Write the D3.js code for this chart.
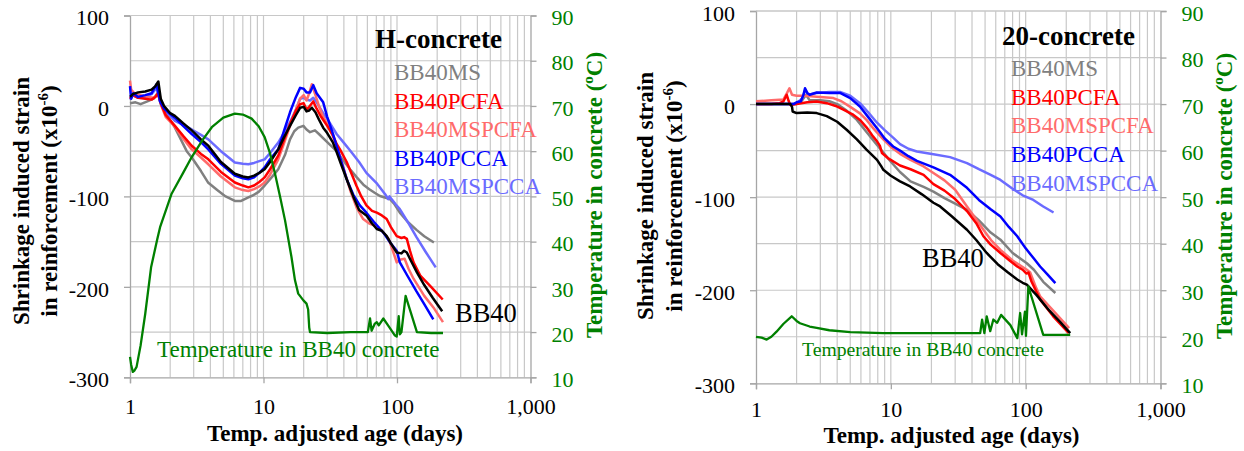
<!DOCTYPE html>
<html><head><meta charset="utf-8">
<script src="https://cdn.jsdelivr.net/npm/d3@7"></script>
<style>
body{margin:0;background:#fff}
svg{display:block}
text{font-family:"Liberation Serif","Times New Roman",serif}
</style>
</head><body>
<svg id="c" width="1244" height="451" font-family="Liberation Serif, serif"></svg>
<script>
// ---------------- DATA ----------------
const seriesNames = ["BB40MS","BB40PCFA","BB40MSPCFA","BB40PCCA","BB40MSPCCA"];
const strainTicks = [-300,-200,-100,0,100];
const tempTicks = [10,20,30,40,50,60,70,80,90];
const ageTicks = [1,10,100,1000];

// H-concrete: [age (days), strain x10^-6]
const H_BB40 = [[1.0,10],[1.05,13],[1.15,15],[1.3,16],[1.45,18],[1.55,22],[1.63,27],[1.7,8],[1.8,0],[2.0,-8],[2.17,-11],[2.5,-19],[2.9,-27],[3.4,-37],[3.86,-44],[4.8,-62],[6.1,-75],[7.0,-78],[7.7,-79],[8.5,-77],[9.3,-74],[10.2,-70],[11.2,-62],[12.9,-48],[14.2,-35],[15.8,-22],[17.5,-10],[18.8,-2],[20,-1],[21,-6],[22,-5],[23,-2],[24.5,-7],[26,-15],[28,-24],[30,-30],[33,-40],[35.3,-51],[38,-64],[42,-81],[47,-100],[52,-115],[59,-121],[65,-130],[70.6,-136],[77,-138],[83.7,-144],[90,-152],[99.5,-162],[108,-163],[113,-160],[118.5,-162],[128,-172],[141,-184],[160,-198],[185,-212],[218,-227]];
const H_MS = [[1.0,3],[1.1,4],[1.2,2],[1.35,5],[1.5,8],[1.62,15],[1.7,2],[1.85,-8],[2.17,-24],[2.66,-50],[2.9,-57],[3.4,-72],[3.86,-85],[4.5,-93],[5.2,-100],[6.1,-105],[6.8,-105],[7.7,-101],[8.3,-99],[9.2,-95],[10.2,-88],[11.8,-77],[12.9,-70],[14.5,-54],[15.8,-37],[17,-28],[18.2,-24],[19.9,-22],[21,-26],[22.3,-29],[24.3,-27],[26,-31],[30,-40],[35.3,-50],[40,-61],[45,-71],[50,-79],[56,-87],[62,-92],[68,-96],[74.5,-99.5],[80,-101],[88.6,-103],[95,-108],[105,-118],[120,-128],[140,-137],[160,-144],[189,-151]];
const H_PCFA = [[1.0,8],[1.05,12],[1.15,9],[1.3,8],[1.45,7],[1.55,10],[1.62,14],[1.7,3],[1.85,-10],[2.17,-22],[2.5,-33],[2.9,-44],[3.4,-53],[3.86,-59],[4.8,-73],[6.1,-84.6],[7.0,-88],[7.7,-90],[8.5,-88],[9.3,-84],[10.2,-79],[11.2,-70],[12.9,-55],[14.2,-38],[15.8,-20],[17.5,-5],[18.8,2],[20,3],[21,-4],[22,-1],[23.6,5],[25,-3],[27,-12],[30,-22],[33,-32],[35.3,-42],[37.4,-48],[42,-62],[46,-76],[49.6,-88],[54,-100],[59,-110],[65,-116],[70.6,-118],[77,-121],[83.7,-125],[90,-134],[99.5,-144],[108,-146],[113,-145],[118.5,-147],[125,-160],[133,-173],[150,-188],[180,-200],[220,-214]];
const H_MSPCFA = [[1.0,28],[1.02,18],[1.08,14],[1.2,12],[1.35,10],[1.5,9],[1.6,12],[1.66,14],[1.72,0],[1.85,-12],[2.17,-23],[2.5,-36],[2.9,-48],[3.4,-57],[3.86,-64.5],[4.8,-78],[6.1,-90],[7.0,-93],[7.7,-94],[8.5,-92],[9.3,-89],[10.2,-84.6],[11.2,-76],[12.9,-59],[14.2,-42],[15.8,-22],[17.5,-4],[18.8,8],[20,12],[21,6],[22,14],[23,24],[24.5,12],[26,0],[28,-12],[30,-20],[33,-33],[35.3,-44],[40,-70],[45,-95],[50,-113],[55.8,-125],[62,-130],[70.6,-133],[77,-138],[86.6,-147],[93,-160],[99.5,-173],[105,-170],[114,-169],[122,-180],[133,-191],[160,-210],[190,-224],[221,-239]];
const H_PCCA = [[1.0,22],[1.02,8],[1.06,14],[1.15,10],[1.3,12],[1.45,14],[1.58,24],[1.68,5],[1.8,-3],[2.0,-9],[2.17,-13],[2.5,-22],[2.9,-31],[3.4,-40],[3.86,-48],[4.8,-64],[6.1,-77],[7.0,-80],[7.7,-81],[8.5,-79],[9.3,-74],[10.2,-68],[11.2,-59],[12.9,-48],[14.2,-28],[15.8,-7],[17.5,10],[18.8,20],[20,19],[21,15],[22.3,15],[23.6,23],[25,14],[28,4],[30,-12],[33,-30],[35.3,-44],[38,-60],[42,-81],[47,-98],[52.7,-110],[59,-118],[67,-128],[79,-140],[90,-152],[99.5,-160],[105,-173],[120,-188],[140,-205],[160,-219],[187,-236]];
const H_MSPCCA = [[1.0,7],[1.05,12],[1.15,9],[1.3,10],[1.45,13],[1.58,20],[1.68,5],[1.8,-4],[2.17,-16.6],[2.5,-21],[2.9,-26],[3.4,-32],[3.86,-37],[4.8,-50],[6.1,-62.6],[7.0,-64],[7.7,-64.5],[8.5,-63],[9.3,-61],[10.2,-59],[11.2,-52],[12.9,-40.5],[14.2,-30],[15.8,-18],[17.5,-4],[18.8,8],[20,9],[21,7],[22.3,6],[23.6,9],[25,4],[28,-8],[30,-14],[33,-24],[35.3,-31],[39.6,-40],[45,-50],[52,-62],[59,-74],[70,-85],[81.5,-97.6],[86,-103],[88,-100],[91,-103],[98,-109],[105,-114],[120,-128],[140,-145],[165,-162],[195,-178.5]];
// temperature in BB40 H-concrete [age, degC]
const H_TEMP = [[1.0,14.5],[1.02,12.8],[1.05,11.2],[1.08,11.5],[1.12,12.3],[1.2,17],[1.3,24],[1.44,34.4],[1.6,40.5],[1.68,43.2],[2.05,50.6],[2.5,55.2],[2.9,58.7],[3.5,62.5],[4.1,65.3],[5.0,67.4],[6.1,68.3],[7.0,68.1],[8.15,67.2],[9.2,65.5],[10.2,63.1],[11.2,59.5],[12.2,55],[13.3,50],[14.5,44.7],[16.2,36.6],[17.2,31.5],[18.2,28.5],[19.9,27],[21,26.3],[21.6,25],[22,21],[22.3,20],[30,19.8],[45,20],[60.5,20],[62.8,23],[64.5,20.3],[68,21.8],[70.6,22.2],[73,21.5],[79,23],[88,21],[96,19.3],[99.5,19],[103,23.5],[105,19.5],[108,20],[116,28],[141,20],[180,19.8],[221,19.8]];

// 20-concrete
const R_BB40 = [[1.0,0],[1.3,0],[1.6,0],[1.8,0],[1.85,-3],[1.87,-8],[2.0,-9.7],[2.4,-9],[2.82,-9.7],[3.35,-13],[4.0,-19],[4.7,-27.6],[5.6,-38],[6.6,-49],[7.9,-60],[8.5,-67],[8.8,-70.6],[10,-77],[11.7,-83],[13.9,-88.5],[17,-97],[20.7,-106],[23.2,-110],[28,-120],[36.7,-135],[43,-146],[51.4,-160],[62,-172],[74,-181],[86.6,-188.5],[95,-192],[102,-194],[120,-205],[150,-222],[180,-234],[214,-246]];
const R_MS = [[1.0,0],[1.5,0],[2.0,0],[2.2,4],[2.35,10],[2.5,4],[3.0,4],[3.5,3],[4.0,0],[4.7,-7],[5.6,-17],[6.6,-30],[7.9,-44],[8.8,-52],[10,-62],[11.7,-73],[14,-83],[17.5,-89],[20.7,-94],[25,-101],[30,-107],[36.7,-113.6],[45,-125],[55,-138],[65,-145.7],[80,-160],[102,-171],[115,-178],[135,-191],[166,-203]];
const R_PCFA = [[1.0,0],[1.3,0],[1.5,1],[1.6,3],[1.69,10],[1.75,3],[1.8,-1],[2.0,0],[2.4,2],[2.82,2.8],[3.35,1],[3.9,-2],[4.45,-6],[5.2,-11],[5.9,-17],[6.6,-25],[7.4,-35],[7.9,-40],[8.3,-45],[8.6,-52.6],[9.5,-58],[11.7,-66],[14,-70],[17.5,-76],[20.7,-86],[25,-93],[30,-102],[36.7,-115],[43,-128],[48.6,-142],[55,-151],[65,-160],[76,-168],[86.6,-174.5],[95,-178],[101,-182],[105,-181],[110,-190],[128,-210],[160,-228],[209,-246]];
const R_MSPCFA = [[1.0,3],[1.3,4],[1.6,5],[1.7,12],[1.77,17],[1.85,10],[2.0,9],[2.3,9],[2.82,8],[3.35,7],[3.75,6.4],[4.3,3],[5.0,-3],[5.9,-10],[6.6,-17],[7.5,-27],[8.8,-38],[10,-46],[11.7,-53.5],[14,-60],[17.5,-67],[20.7,-74],[25,-82],[30,-92],[36.7,-110],[43,-124],[48.6,-135],[56,-147],[65,-156.6],[80,-168],[95,-175],[102,-178],[108,-181],[120,-198],[128,-206.6],[160,-222],[210,-240.7]];
const R_PCCA = [[1.0,0],[1.5,0],[1.9,0],[2.0,2],[2.15,3],[2.25,10],[2.31,17],[2.4,12],[2.5,10],[2.82,12.5],[3.5,12],[4.2,12],[5.0,6.4],[5.9,-2.6],[6.8,-14],[7.9,-26],[9,-37],[10.4,-45.6],[11.7,-50],[13.5,-56],[15.6,-61],[20.7,-68],[27.5,-76],[36.7,-90],[45,-103],[55,-113],[65,-120.8],[75,-132],[86.6,-142],[100,-155],[115,-166],[128,-174.5],[145,-183],[166,-192.3]];
const R_MSPCCA = [[1.0,0],[1.5,0],[1.9,0],[2.0,1],[2.2,6],[2.31,15],[2.45,10],[2.82,12],[3.5,13],[4.2,13],[5.0,9],[5.9,1],[6.8,-9],[7.9,-20],[9,-28],[10.4,-36],[11.7,-43],[13.5,-48],[15.6,-51],[20.7,-54],[27.5,-57],[36.7,-63.5],[45,-70],[55,-76],[65,-81.5],[80,-91],[95,-98],[114,-103],[135,-110],[161,-116.5]];
const R_TEMP = [[1.0,20],[1.1,19.8],[1.2,19.4],[1.3,20],[1.42,21.1],[1.6,22.8],[1.84,24.4],[2.0,23.4],[2.12,22.9],[2.5,22.2],[2.82,21.9],[3.5,21.4],[5.0,21],[8.8,20.8],[20,20.8],[46,20.8],[47.5,23.7],[49.4,20.8],[51.4,24.4],[54.6,21.2],[57.6,23.7],[61.5,23],[65.7,24.7],[77,22.5],[86.7,19.7],[91,25.1],[94,20.5],[98.8,25.4],[100.5,20.2],[104.7,30.8],[135,20.4],[214,20.4]];

// ---------------- DRAW ----------------
const FONT = '"Liberation Serif","Times New Roman",serif';
const colors = {"BB40":"#000000","BB40MS":"#808080","BB40PCFA":"#ff0000","BB40MSPCFA":"#ff6b6b","BB40PCCA":"#0000ff","BB40MSPCCA":"#6b6bff"};
const GREEN = "#008000";
const svg = d3.select("#c");
svg.append("rect").attr("width",1244).attr("height",451).attr("fill","#fff");
const hyphenFmt = d => String(d);

const charts = [
  {title:"H-concrete", x0:130, x1:530.5, yT:15.5, yB:377.3, xPad:15,
   series:{"BB40MS":H_MS,"BB40MSPCCA":H_MSPCCA,"BB40MSPCFA":H_MSPCFA,"BB40PCFA":H_PCFA,"BB40PCCA":H_PCCA,"BB40":H_BB40},
   temp:H_TEMP,
   titleX:375, titleY:48, legX:394, legY:[80,108.5,137,165.5,194],
   bbX:455, bbY:322, tLabX:157, tLabY:357, tLabSize:23,
   yt1:28.5, yt2:57, ytY:201, rtX:602, rtY:195, xtX:335, xtY:441},
  {title:"20-concrete", x0:756, x1:1160.5, yT:11, yB:383.3, xPad:12,
   series:{"BB40MS":R_MS,"BB40MSPCCA":R_MSPCCA,"BB40MSPCFA":R_MSPCFA,"BB40PCFA":R_PCFA,"BB40PCCA":R_PCCA,"BB40":R_BB40},
   temp:R_TEMP,
   titleX:1002, titleY:45, legX:1011, legY:[76,104.5,133,161.5,190.5],
   bbX:922, bbY:267, tLabX:802, tLabY:356, tLabSize:19.7,
   yt1:653, yt2:681.5, ytY:196, rtX:1232, rtY:196, xtX:951.5, xtY:443}
];

charts.forEach(c => {
  const g = svg.append("g").attr("font-family",FONT);
  const x = d3.scaleLog().domain([1,1000]).range([c.x0,c.x1]);
  const y = d3.scaleLinear().domain([-300,100]).range([c.yB,c.yT]);
  const yT = d3.scaleLinear().domain([10,90]).range([c.yB,c.yT]);

  // grid
  const vGrid = [];
  [1,10,100].forEach(dec => { for (let k=1;k<10;k++) vGrid.push(dec*k); });
  vGrid.push(1000);
  g.selectAll(".vg").data(vGrid.slice(1,-1)).enter().append("line")
    .attr("x1",d=>x(d)).attr("x2",d=>x(d)).attr("y1",c.yT).attr("y2",c.yB)
    .attr("stroke","#c8c8c8").attr("stroke-width",1.2);
  g.selectAll(".hg").data(d3.range(-250,101,50)).enter().append("line")
    .attr("x1",c.x0).attr("x2",c.x1).attr("y1",d=>y(d)).attr("y2",d=>y(d))
    .attr("stroke","#c8c8c8").attr("stroke-width",1.2);

  // axes
  const axL = g.append("g").attr("transform",`translate(${c.x0},0)`)
    .call(d3.axisLeft(y).tickValues(strainTicks).tickSize(6).tickPadding(15).tickFormat(hyphenFmt));
  const axB = g.append("g").attr("transform",`translate(0,${c.yB})`)
    .call(d3.axisBottom(x).tickValues(ageTicks).tickSize(6).tickPadding(c.xPad).tickFormat(d3.format(",")));
  const axR = g.append("g").attr("transform",`translate(${c.x1},0)`)
    .call(d3.axisRight(yT).tickValues(tempTicks).tickSize(6).tickPadding(15).tickFormat(hyphenFmt));
  [axL,axB,axR].forEach(a => {
    a.attr("font-family",FONT).attr("font-size",22);
    a.select(".domain").attr("stroke","#a6a6a6").attr("stroke-width",1.3);
    a.selectAll(".tick line").attr("stroke","#a6a6a6").attr("stroke-width",1.3);
    a.selectAll(".tick text").attr("font-family",FONT).attr("font-size",22).attr("fill","#000");
  });
  axL.selectAll(".tick text").attr("dy","0.42em");
  axR.selectAll(".tick text").attr("dy","0.42em").attr("fill",GREEN);
  g.append("line").attr("x1",c.x0).attr("x2",c.x1).attr("y1",c.yT).attr("y2",c.yT).attr("stroke","#c8c8c8").attr("stroke-width",1.2);

  // strain lines
  const line = d3.line().x(d=>x(d[0])).y(d=>y(d[1]));
  Object.entries(c.series).forEach(([name,data]) => {
    g.append("path").datum(data).attr("d",line).attr("fill","none")
      .attr("stroke",colors[name]).attr("stroke-width",2.5).attr("stroke-linejoin","round");
  });
  // temperature
  const tline = d3.line().x(d=>x(d[0])).y(d=>yT(d[1]));
  g.append("path").datum(c.temp).attr("d",tline).attr("fill","none")
    .attr("stroke",GREEN).attr("stroke-width",2.3).attr("stroke-linejoin","round");

  // title & legend
  g.append("text").attr("x",c.titleX).attr("y",c.titleY).attr("font-size",27).attr("font-weight","bold").text(c.title);
  seriesNames.forEach((n,i) => {
    g.append("text").attr("x",c.legX).attr("y",c.legY[i]).attr("font-size",23).attr("fill",colors[n]).text(n);
  });
  g.append("text").attr("x",c.bbX).attr("y",c.bbY).attr("font-size",26.5).text("BB40");
  g.append("text").attr("x",c.tLabX).attr("y",c.tLabY).attr("font-size",c.tLabSize).attr("fill",GREEN).text("Temperature in BB40 concrete");

  // axis titles
  g.append("text").attr("transform",`translate(${c.yt1},${c.ytY}) rotate(-90)`).attr("text-anchor","middle")
    .attr("font-size",23).attr("font-weight","bold").text("Shrinkage induced strain");
  const t2 = g.append("text").attr("transform",`translate(${c.yt2},${c.ytY}) rotate(-90)`).attr("text-anchor","middle")
    .attr("font-size",23).attr("font-weight","bold");
  t2.append("tspan").text("in reinforcement (x10");
  t2.append("tspan").attr("font-size",15).attr("dy",-9).text("-6");
  t2.append("tspan").attr("dy",9).text(")");
  const t3 = g.append("text").attr("transform",`translate(${c.rtX},${c.rtY}) rotate(-90)`).attr("text-anchor","middle")
    .attr("font-size",23).attr("font-weight","bold").attr("fill",GREEN);
  t3.append("tspan").text("Temperature in concrete (");
  t3.append("tspan").attr("font-size",15).attr("dy",-9).text("o");
  t3.append("tspan").attr("dy",9).text("C)");
  g.append("text").attr("x",c.xtX).attr("y",c.xtY).attr("text-anchor","middle")
    .attr("font-size",23).attr("font-weight","bold").text("Temp. adjusted age (days)");
});
</script>
</body></html>
